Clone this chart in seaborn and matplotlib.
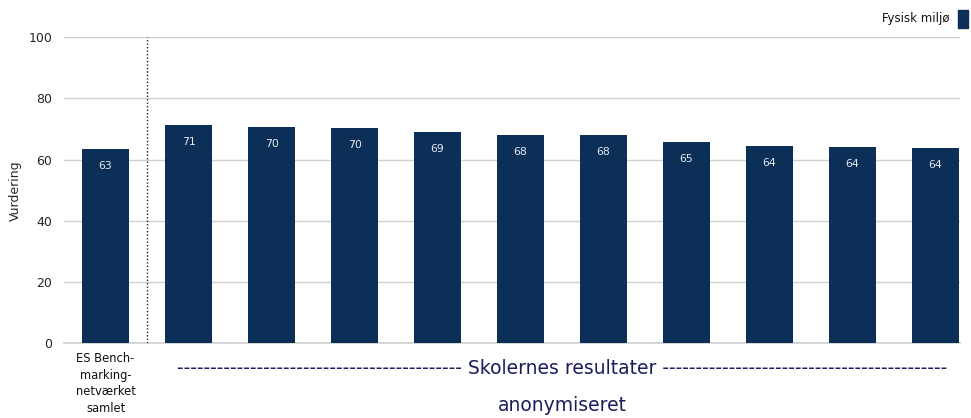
import pandas as pd
import matplotlib
matplotlib.use('Agg')
import matplotlib.pyplot as plt
import seaborn as sns

# Values
categories = ['ES', 'S1', 'S2', 'S3', 'S4', 'S5', 'S6', 'S7', 'S8', 'S9', 'S10']
heights = [63.4, 71.2, 70.6, 70.3, 69.0, 68.0, 68.0, 65.7, 64.4, 64.0, 63.7]
labels = ['63', '71', '70', '70', '69', '68', '68', '65', '64', '64', '64']
yticks = [0, 20, 40, 60, 80, 100]

bar_color = '#0b2f57'
df = pd.DataFrame({'cat': categories, 'value': heights})

sns.set_theme(style='white')
plt.rcParams['font.family'] = ['DejaVu Sans']

fig = plt.figure(figsize=(9.71, 4.18), dpi=100)
ax = fig.add_axes([0.066, 0.179, 0.923, 0.732])

ax.yaxis.grid(True, color='#d0d0d0', linewidth=1, zorder=0)
ax.set_axisbelow(True)
sns.barplot(data=df, x='cat', y='value', color=bar_color, width=0.57,
            saturation=1, linewidth=0, ax=ax, zorder=3)

for i, (h, lab) in enumerate(zip(heights, labels)):
    ax.text(i, h - 5.5, lab, ha='center', va='center', color='#e6e9ee',
            fontsize=7.8, zorder=4)

ax.set_ylim(0, 100)
ax.set_xlim(-0.5, 10.3)
ax.set_yticks(yticks)
ax.set_yticklabels([str(t) for t in yticks], fontsize=9)
ax.set_xticks([])
ax.set_xlabel('')
ax.set_ylabel('Vurdering', fontsize=9, labelpad=5)
for s in ['top', 'right', 'left']:
    ax.spines[s].set_visible(False)
ax.spines['bottom'].set_color('#d0d0d0')
ax.tick_params(axis='y', length=0, pad=8.5)

# dotted separator between benchmark and schools
ax.axvline(0.5, color='#222222', linestyle=(0, (1, 1.5)), linewidth=1, zorder=5)

# benchmark label
ax.text(0, -3, 'ES Bench-\nmarking-\nnetværket\nsamlet', ha='center', va='top',
        fontsize=8.3, color='#111111', linespacing=1.35, clip_on=False)

dash = '-' * 43
fig.text(0.579, 0.118, dash + ' Skolernes resultater ' + dash, ha='center',
         va='center', fontsize=13.5, color='#1c1c5c')
fig.text(0.579, 0.03, 'anonymiseret', ha='center', va='center',
         fontsize=13.5, color='#1c1c5c')

# legend
fig.text(0.978, 0.955, 'Fysisk miljø', ha='right', va='center', fontsize=8.5,
         color='#111111')
fig.patches.append(plt.Rectangle((0.987, 0.932), 0.010, 0.045, color=bar_color,
                                 transform=fig.transFigure, figure=fig))

fig.savefig('out.png', dpi=100)
